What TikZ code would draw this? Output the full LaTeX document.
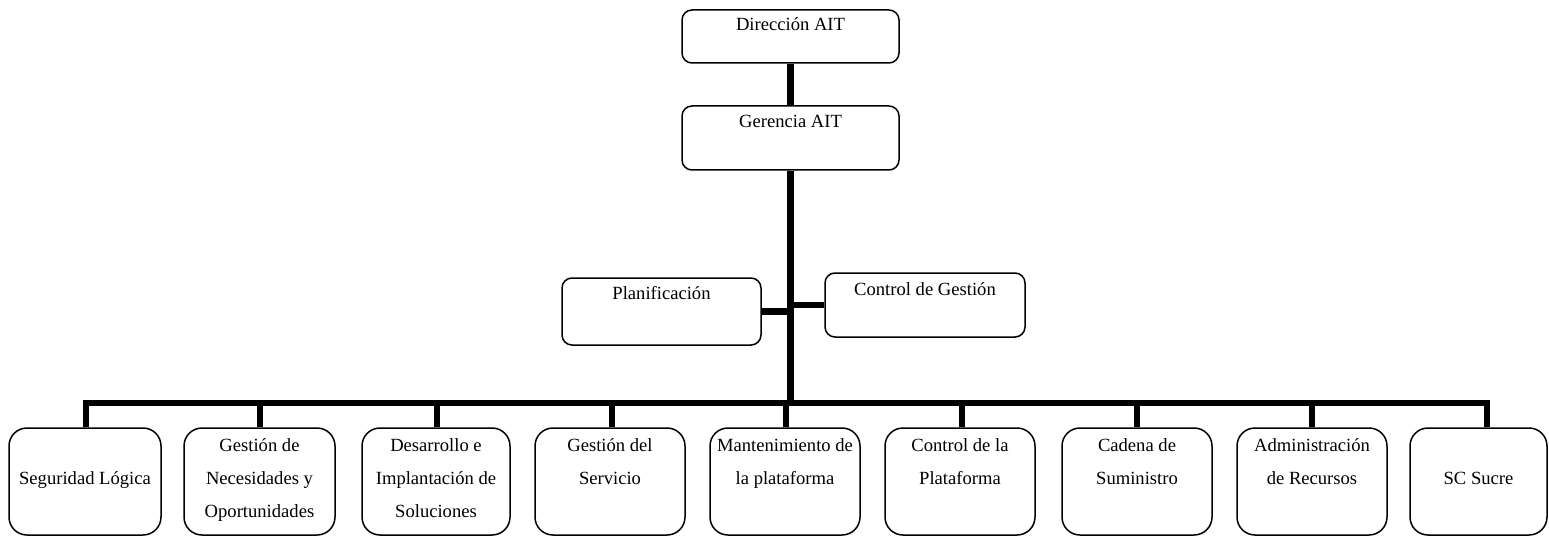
\documentclass[tikz,border=0pt]{standalone}
\usepackage{fontspec}
\setmainfont{Liberation Serif}
\begin{document}
\begin{tikzpicture}[x=1pt,y=-1pt,
  box/.style={draw, line width=1.5pt, rounded corners=10pt, inner sep=0pt},
  lowbox/.style={box, rounded corners=18pt, minimum height=107pt},
  conn/.style={line width=6.5pt, line join=miter},
  lbl/.style={anchor=base, inner sep=0pt, font=\fontsize{18.6}{33}\selectfont}]
\useasboundingbox (0,0) rectangle (1549,537);
% upper boxes
\node[box, minimum width=217pt, minimum height=53pt] (dir) at (790.5,36.5) {};
\node[box, minimum width=217pt, minimum height=64pt] (ger) at (790.5,138) {};
\node[box, minimum width=199pt, minimum height=67pt] (plan) at (661.5,311.5) {};
\node[box, minimum width=200pt, minimum height=64pt] (ctrl) at (925,305) {};
\node[lbl] (tdir) at (dir.north |- 0,31) {Dirección AIT};
\node[lbl] (tger) at (ger.north |- 0,128) {Gerencia AIT};
\node[lbl] (tplan) at (plan.north |- 0,299) {Planificación};
\node[lbl] (tctrl) at (ctrl.north |- 0,295) {Control de Gestión};
% lower boxes
\node[lowbox, minimum width=152pt] (b1) at (85,481.5) {};
\node[lowbox, minimum width=151pt] (b2) at (259.5,481.5) {};
\node[lowbox, minimum width=148pt] (b3) at (436,481.5) {};
\node[lowbox, minimum width=150pt] (b4) at (610,481.5) {};
\node[lowbox, minimum width=150pt] (b5) at (785,481.5) {};
\node[lowbox, minimum width=150pt] (b6) at (960,481.5) {};
\node[lowbox, minimum width=150pt] (b7) at (1137,481.5) {};
\node[lowbox, minimum width=150pt] (b8) at (1312,481.5) {};
\node[lowbox, minimum width=137pt] (b9) at (1478.5,481.5) {};
\node[lbl] (t1) at (b1.north |- 0,484) {\parbox[t]{150pt}{\centering Seguridad Lógica}};
\node[lbl] (t2) at (b2.north |- 0,451) {\parbox[t]{150pt}{\centering Gestión de\\Necesidades y\\Oportunidades}};
\node[lbl] (t3) at (b3.north |- 0,451) {\parbox[t]{150pt}{\centering Desarrollo e\\Implantación de\\Soluciones}};
\node[lbl] (t4) at (b4.north |- 0,451) {\parbox[t]{150pt}{\centering Gestión del\\Servicio}};
\node[lbl] (t5) at (b5.north |- 0,451) {\parbox[t]{150pt}{\centering Mantenimiento de\\la plataforma}};
\node[lbl] (t6) at (b6.north |- 0,451) {\parbox[t]{150pt}{\centering Control de la\\Plataforma}};
\node[lbl] (t7) at (b7.north |- 0,451) {\parbox[t]{150pt}{\centering Cadena de\\Suministro}};
\node[lbl] (t8) at (b8.north |- 0,451) {\parbox[t]{150pt}{\centering Administración\\de Recursos}};
\node[lbl] (t9) at (b9.north |- 0,484) {\parbox[t]{150pt}{\centering SC Sucre}};
% connectors
\coordinate (j) at (ger.south |- 0,403);
\coordinate (d1) at (86,403);
\coordinate (d2) at (260,403);
\coordinate (d3) at (437,403);
\coordinate (d4) at (612,403);
\coordinate (d5) at (786,403);
\coordinate (d6) at (962,403);
\coordinate (d7) at (1137,403);
\coordinate (d8) at (1312,403);
\coordinate (d9) at (1487,403);
\draw[conn] (dir.south) -- (ger.north);
\draw[conn] (ger.south) -- (j);
\draw[conn] (plan.east) -- (plan.east -| ger.south);
\draw[conn] (ctrl.west) -- (ctrl.west -| ger.south);
\draw[conn] (d1 |- b1.north) -- (d1) -- (d9) -- (d9 |- b9.north);
\draw[conn] (d2) -- (d2 |- b2.north);
\draw[conn] (d3) -- (d3 |- b3.north);
\draw[conn] (d4) -- (d4 |- b4.north);
\draw[conn] (d5) -- (d5 |- b5.north);
\draw[conn] (d6) -- (d6 |- b6.north);
\draw[conn] (d7) -- (d7 |- b7.north);
\draw[conn] (d8) -- (d8 |- b8.north);
\end{tikzpicture}
\end{document}
